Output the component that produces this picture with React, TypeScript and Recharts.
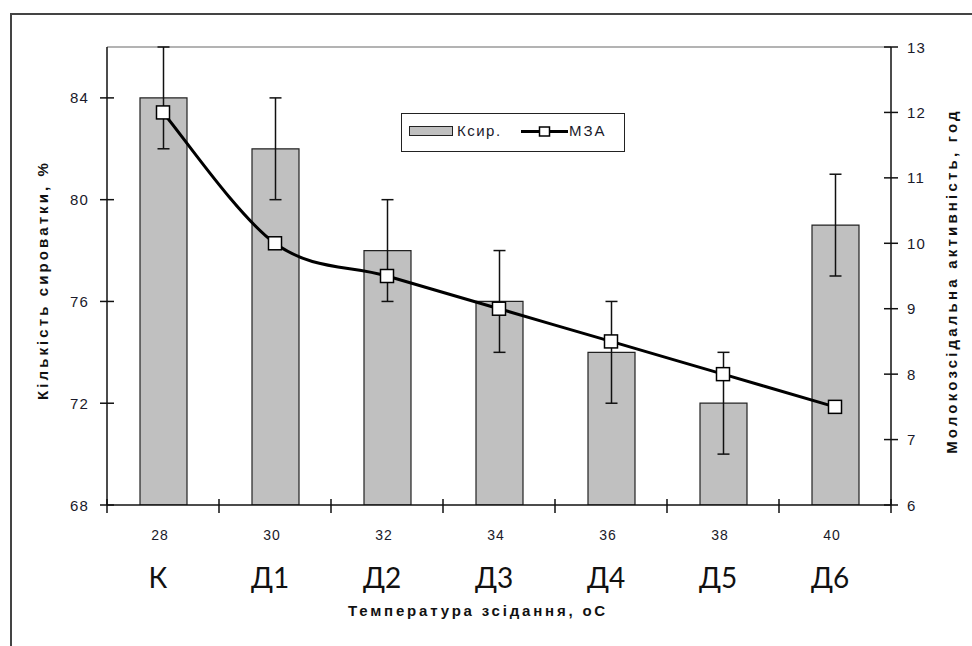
import React from 'react';
import { ComposedChart, Bar, Line, XAxis, YAxis, ErrorBar, Legend, ReferenceLine } from 'recharts';

const temperatures = ['28', '30', '32', '34', '36', '38', '40'];
const variantCodes = ['К', 'Д1', 'Д2', 'Д3', 'Д4', 'Д5', 'Д6'];
const wheyValues = [84, 82, 78, 76, 74, 72, 79];
const wheyErrors = [2, 2, 2, 2, 2, 2, 2];
const mzaValues = [12, 10, 9.5, 9, 8.5, 8, 7.5];
const leftTicks = [68, 72, 76, 80, 84];
const rightTicks = [6, 7, 8, 9, 10, 11, 12, 13];
const leftDomain = [68, 86];
const rightDomain = [6, 13];
const wheyName = 'Ксир.';
const mzaName = 'МЗА';
const leftTitle = 'Кількість сироватки, %';
const rightTitle = 'Молокозсідальна активність, год';
const xTitle = 'Температура зсідання, оС';

const data = temperatures.map((t, i) => ({
  temp: t,
  whey: wheyValues[i],
  wheyErr: wheyErrors[i],
  mza: mzaValues[i],
}));

const FONT = '"Liberation Sans", Arial, sans-serif';
const AX = '#111';

// Excel-like smoothed line (Catmull-Rom style Bezier segments)
function excelSmooth(context: any) {
  let pts: number[][] = [];
  return {
    areaStart() {},
    areaEnd() {},
    lineStart() {
      pts = [];
    },
    lineEnd() {
      const n = pts.length;
      if (n) context.moveTo(pts[0][0], pts[0][1]);
      for (let i = 0; i < n - 1; i++) {
        const p0 = pts[i - 1] || pts[i];
        const p1 = pts[i];
        const p2 = pts[i + 1];
        const p3 = pts[i + 2] || pts[i + 1];
        context.bezierCurveTo(
          p1[0] + (p2[0] - p0[0]) / 6,
          p1[1] + (p2[1] - p0[1]) / 6,
          p2[0] - (p3[0] - p1[0]) / 6,
          p2[1] - (p3[1] - p1[1]) / 6,
          p2[0],
          p2[1]
        );
      }
      pts = [];
    },
    point(x: number, y: number) {
      pts.push([+x, +y]);
    },
  };
}

const LeftTick = (props: any) => {
  const { x, y, payload } = props;
  const ax = x + 18;
  return (
    <g>
      <line x1={ax - 7} x2={ax + 7} y1={y} y2={y} stroke={AX} strokeWidth={1.5} />
      <text x={x} y={y} textAnchor="end" dominantBaseline="central" fontFamily={FONT} fontSize={15} letterSpacing={1.2} fill="#1a1a2a">
        {payload.value}
      </text>
    </g>
  );
};

const RightTick = (props: any) => {
  const { x, y, payload } = props;
  const ax = x - 16;
  return (
    <g>
      <line x1={ax - 7} x2={ax + 7} y1={y} y2={y} stroke={AX} strokeWidth={1.5} />
      <text x={x} y={y} textAnchor="start" dominantBaseline="central" fontFamily={FONT} fontSize={15} letterSpacing={1.2} fill="#1a1a2a">
        {payload.value}
      </text>
    </g>
  );
};

const XTick = (props: any) => {
  const { x, y, payload, index } = props;
  const half = payload && typeof payload.offset === 'number' && payload.offset > 0 ? payload.offset : 56;
  const i = typeof index === 'number' ? index : temperatures.indexOf(String(payload.value));
  return (
    <g>
      <line x1={x - half} x2={x - half} y1={y - 6} y2={y + 8} stroke={AX} strokeWidth={1.5} />
      {i === temperatures.length - 1 && (
        <line x1={x + half} x2={x + half} y1={y - 6} y2={y + 8} stroke={AX} strokeWidth={1.5} />
      )}
      <text x={x - 3} y={y + 30} textAnchor="middle" dominantBaseline="central" fontFamily={FONT} fontSize={14} letterSpacing={1} fill="#1a1a2a">
        {payload.value}
      </text>
      <text x={x - 5} y={y + 72} textAnchor="middle" dominantBaseline="central" fontFamily="Lato, 'Open Sans', sans-serif" fontSize={28} fill="#111">
        {variantCodes[i]}
      </text>
    </g>
  );
};

const SquareDot = (props: any) => {
  const { cx, cy, index } = props;
  if (cx == null || cy == null) return <g key={index} />;
  const s = 13;
  return <rect key={index} x={cx - s / 2} y={cy - s / 2} width={s} height={s} fill="#fff" stroke="#000" strokeWidth={1.5} />;
};

const LeftTitle = (props: any) => {
  const vb = props.viewBox || { x: 0, y: 47, width: 107, height: 458 };
  const cx = vb.x + 42;
  const cy = vb.y + vb.height / 2 + 4;
  return (
    <text x={cx} y={cy} transform={`rotate(-90, ${cx}, ${cy})`} textAnchor="middle" dominantBaseline="central" fontFamily={FONT} fontWeight="bold" fontSize={15} letterSpacing={3.1} fill="#111">
      {leftTitle}
    </text>
  );
};

const RightTitle = (props: any) => {
  const vb = props.viewBox || { x: 891, y: 47, width: 81, height: 458 };
  const cx = vb.x + 60;
  const cy = vb.y + vb.height / 2 + 5;
  return (
    <text x={cx} y={cy} transform={`rotate(-90, ${cx}, ${cy})`} textAnchor="middle" dominantBaseline="central" fontFamily={FONT} fontWeight="bold" fontSize={15} letterSpacing={3.2} fill="#111">
      {rightTitle}
    </text>
  );
};

const XTitle = (props: any) => {
  const vb = props.viewBox || { x: 107, y: 505, width: 784, height: 141 };
  const cx = vb.x + vb.width / 2 - 21;
  const cy = vb.y + 105;
  return (
    <text x={cx} y={cy} textAnchor="middle" dominantBaseline="central" fontFamily={FONT} fontWeight="bold" fontSize={15} letterSpacing={2.8} fill="#111">
      {xTitle}
    </text>
  );
};

const LegendBox = () => (
  <div
    style={{
      position: 'relative',
      width: 224,
      height: 39,
      boxSizing: 'border-box',
      border: '1.5px solid #222',
      background: '#fff',
      fontFamily: FONT,
      fontSize: 15,
      color: '#1a1a2a',
    }}
  >
    <div style={{ position: 'absolute', left: 6.5, top: 12, width: 44, height: 10, boxSizing: 'border-box', background: '#c0c0c0', border: '1.5px solid #222' }} />
    <div style={{ position: 'absolute', left: 55, top: 9, lineHeight: '16px', letterSpacing: 1.5 }}>{wheyName}</div>
    <svg style={{ position: 'absolute', left: 119, top: 10 }} width={47} height={15}>
      <line x1={0} x2={47} y1={7.5} y2={7.5} stroke="#000" strokeWidth={3} />
      <rect x={18.5} y={3} width={10} height={9} fill="#fff" stroke="#000" strokeWidth={1.5} />
    </svg>
    <div style={{ position: 'absolute', left: 167, top: 9, lineHeight: '16px', letterSpacing: 2 }}>{mzaName}</div>
  </div>
);

export default function App() {
  return (
    <div style={{ position: 'absolute', left: 0, top: 0, width: 972, height: 646, overflow: 'hidden', background: '#fff' }}>
      <div
        style={{
          position: 'absolute',
          left: 10,
          top: 13,
          width: 980,
          height: 660,
          border: '2px solid #444',
          boxSizing: 'border-box',
        }}
      />
      <div style={{ position: 'absolute', left: 0, top: 0 }}>
        <ComposedChart width={972} height={646} data={data} margin={{ top: 47, right: 0, bottom: 0, left: 0 }}>
          <XAxis
            xAxisId="x"
            dataKey="temp"
            type="category"
            height={141}
            interval={0}
            tickSize={0}
            tickMargin={0}
            tickLine={false}
            axisLine={{ stroke: AX, strokeWidth: 1.5 }}
            tick={<XTick />}
            label={<XTitle />}
          />
          <YAxis
            yAxisId="left"
            orientation="left"
            width={107}
            type="number"
            domain={leftDomain}
            ticks={leftTicks}
            allowDataOverflow
            tickSize={0}
            tickMargin={18}
            tickLine={false}
            axisLine={{ stroke: AX, strokeWidth: 1.5 }}
            tick={<LeftTick />}
            label={<LeftTitle />}
          />
          <YAxis
            yAxisId="right"
            orientation="right"
            width={81}
            type="number"
            domain={rightDomain}
            ticks={rightTicks}
            allowDataOverflow
            tickSize={0}
            tickMargin={16}
            tickLine={false}
            axisLine={{ stroke: AX, strokeWidth: 1.5 }}
            tick={<RightTick />}
            label={<RightTitle />}
          />
          <ReferenceLine yAxisId="left" xAxisId="x" y={leftDomain[1]} stroke="#9a9a9a" strokeWidth={1.5} />
          <Bar
            xAxisId="x"
            yAxisId="left"
            dataKey="whey"
            name={wheyName}
            barSize={47}
            fill="#c0c0c0"
            stroke="#222"
            strokeWidth={1.2}
            isAnimationActive={false}
          >
            <ErrorBar dataKey="wheyErr" direction="y" width={6} stroke="#111" strokeWidth={1.5} />
          </Bar>
          <Line
            xAxisId="x"
            yAxisId="right"
            dataKey="mza"
            name={mzaName}
            type={excelSmooth as any}
            stroke="#000"
            strokeWidth={3}
            dot={<SquareDot />}
            activeDot={false}
            isAnimationActive={false}
          />
          <Legend
            layout="horizontal"
            verticalAlign="middle"
            align="center"
            wrapperStyle={{ position: 'absolute', left: 401, top: 113, width: 224, height: 39 }}
            content={<LegendBox />}
          />
        </ComposedChart>
      </div>
    </div>
  );
}
